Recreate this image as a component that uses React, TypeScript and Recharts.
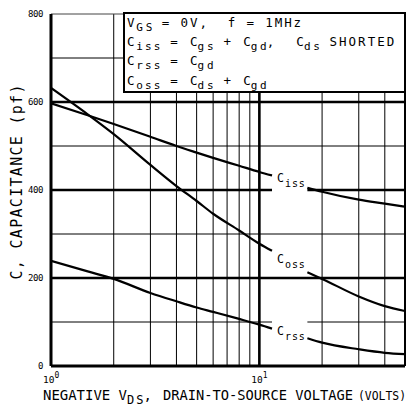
import { LineChart, Line, XAxis, YAxis, ReferenceLine } from "recharts";

// drain-to-source voltage (V), log axis; 14 is the gap under the curve labels
const voltage = [1, 1.5, 2, 3, 4, 5, 6, 8, 10, 11.5, 14, 17, 20, 30, 40, 50];
const ciss = [597, 570, 550, 521, 500, 485, 473, 455, 441, 433, null, 405, 396, 378, 369, 362];
const coss = [632, 572, 527, 457, 409, 375, 346, 308, 278, 262, null, 213, 198, 158, 136, 125];
const crss = [239, 215, 198, 166, 147, 133, 123, 107, 94, 85, null, 63, 53, 38, 30, 27];

const yTicks = [0, 200, 400, 600, 800];
const xTicks = [1, 10];
const minorY = [300, 500, 700];
const majorY = [200, 600];
const brokenY = [
  { y: 100, w: 1 },
  { y: 400, w: 2.6 },
];
const minorX = [2, 3, 4, 5, 6, 7, 8, 9, 20, 30, 40];
const majorX = [10];
const gapFrom = 11.5;
const gapTo = 17;

const FONT = "'DejaVu Sans Mono', monospace";

const rows = voltage.map((v, i) => ({ v, ciss: ciss[i], coss: coss[i], crss: crss[i] }));

function XTick(props: any) {
  const { x, y, payload } = props;
  const exp = Math.round(Math.log10(payload.value));
  return (
    <text x={x - 8} y={y + 17} fontFamily={FONT} fontSize={9.5} fill="#000">
      10
      <tspan dy={-5} fontSize={8}>
        {exp}
      </tspan>
    </text>
  );
}

function YTick(props: any) {
  const { x, y, payload } = props;
  return (
    <text
      x={x - 8}
      y={y}
      dy="0.35em"
      textAnchor="end"
      fontFamily={FONT}
      fontSize={9}
      letterSpacing={-0.4}
      fill="#000"
    >
      {payload.value}
    </text>
  );
}

type Seg = [string, number];

// one line of text made of normal and subscript pieces, monospaced pitch
function TextRow({ x, y, segs, main, sub, pm, ps, dy }: any) {
  let cx = x;
  return (
    <g>
      {segs.map(([t, s]: Seg, i: number) => {
        const pitch = s ? ps : pm;
        const el = (
          <text
            key={i}
            x={cx}
            y={s ? y + dy : y}
            fontFamily={FONT}
            fontSize={s ? sub : main}
            textLength={t.length * pitch}
            lengthAdjust="spacing"
            style={{ whiteSpace: "pre" }}
            fill="#000"
          >
            {t}
          </text>
        );
        cx += t.length * pitch;
        return el;
      })}
    </g>
  );
}

const boxRows: { y: number; segs: Seg[] }[] = [
  { y: 27, segs: [["V", 0], ["GS", 1], [" = 0V,  f = 1MHz", 0]] },
  {
    y: 46,
    segs: [
      ["C", 0], ["iss", 1], [" = C", 0], ["gs", 1], [" + C", 0], ["gd", 1],
      [",  C", 0], ["ds", 1], [" SHORTED", 0],
    ],
  },
  { y: 65, segs: [["C", 0], ["rss", 1], [" = C", 0], ["gd", 1]] },
  {
    y: 85,
    segs: [["C", 0], ["oss", 1], [" = C", 0], ["ds", 1], [" + C", 0], ["gd", 1]],
  },
];

const curveLabels = [
  { y: 182, sub: "iss" },
  { y: 263, sub: "oss" },
  { y: 335, sub: "rss" },
];

export default function App() {
  return (
    <div style={{ position: "absolute", left: 0, top: 0, width: 410, height: 407, background: "#fff" }}>
      <LineChart width={410} height={407} data={rows} margin={{ top: 14, right: 5, bottom: 0, left: 0 }}>
        <XAxis
          dataKey="v"
          type="number"
          scale="log"
          domain={[1, 50]}
          ticks={xTicks}
          interval={0}
          height={41}
          tickSize={0}
          tickMargin={0}
          axisLine={false}
          tickLine={false}
          tick={<XTick />}
          allowDataOverflow
        />
        <YAxis
          type="number"
          domain={[0, 800]}
          ticks={yTicks}
          interval={0}
          width={51}
          tickSize={0}
          tickMargin={0}
          axisLine={false}
          tickLine={false}
          tick={<YTick />}
        />
        {minorX.map((x) => (
          <ReferenceLine key={`mx${x}`} x={x} stroke="#000" strokeWidth={1} />
        ))}
        {minorY.map((y) => (
          <ReferenceLine key={`my${y}`} y={y} stroke="#000" strokeWidth={1} />
        ))}
        {majorY.map((y) => (
          <ReferenceLine key={`My${y}`} y={y} stroke="#000" strokeWidth={2.6} />
        ))}
        {brokenY.map(({ y, w }) => [
          <ReferenceLine
            key={`b1${y}`}
            segment={[{ x: 1, y }, { x: gapFrom, y }]}
            stroke="#000"
            strokeWidth={w}
          />,
          <ReferenceLine
            key={`b2${y}`}
            segment={[{ x: gapTo, y }, { x: 50, y }]}
            stroke="#000"
            strokeWidth={w}
          />,
        ])}
        {majorX.map((x) => (
          <ReferenceLine key={`Mx${x}`} x={x} stroke="#000" strokeWidth={2.6} />
        ))}
        <ReferenceLine y={800} stroke="#444" strokeWidth={1} />
        <ReferenceLine x={50} stroke="#000" strokeWidth={2} />
        <ReferenceLine x={1} stroke="#000" strokeWidth={3} />
        <ReferenceLine y={0} stroke="#000" strokeWidth={3} />
        <Line dataKey="ciss" type="monotone" stroke="#000" strokeWidth={2.2} dot={false} isAnimationActive={false} />
        <Line dataKey="coss" type="monotone" stroke="#000" strokeWidth={2.2} dot={false} isAnimationActive={false} />
        <Line dataKey="crss" type="monotone" stroke="#000" strokeWidth={2.2} dot={false} isAnimationActive={false} />
      </LineChart>
      <svg width={410} height={407} style={{ position: "absolute", left: 0, top: 0, pointerEvents: "none" }}>
        <rect x={124} y={13} width={281} height={79} fill="#fff" stroke="#000" strokeWidth={2} />
        {boxRows.map((r, i) => (
          <TextRow key={i} x={127} y={r.y} segs={r.segs} main={12.5} sub={11} pm={9.3} ps={8} dy={4} />
        ))}
        {curveLabels.map((l) => (
          <TextRow
            key={l.sub}
            x={277}
            y={l.y}
            segs={[["C", 0], [l.sub, 1]]}
            main={11.5}
            sub={10}
            pm={8}
            ps={6.6}
            dy={5}
          />
        ))}
        <TextRow
          x={43}
          y={400}
          segs={[["NEGATIVE V", 0], ["DS", 1], [",", 0]]}
          main={14}
          sub={12}
          pm={8.4}
          ps={8.2}
          dy={4}
        />
        <text x={163} y={400} fontFamily={FONT} fontSize={14} textLength={190} lengthAdjust="spacingAndGlyphs" fill="#000">
          DRAIN-TO-SOURCE VOLTAGE
        </text>
        <text x={358} y={400} fontFamily={FONT} fontSize={12.5} textLength={48} lengthAdjust="spacingAndGlyphs" fill="#000">
          (VOLTS)
        </text>
        <text
          x={22}
          y={182}
          transform="rotate(-90 22 182)"
          textAnchor="middle"
          fontFamily={FONT}
          fontSize={15}
          textLength={195}
          lengthAdjust="spacing"
          fill="#000"
        >
          C, CAPACITANCE (pf)
        </text>
      </svg>
    </div>
  );
}
